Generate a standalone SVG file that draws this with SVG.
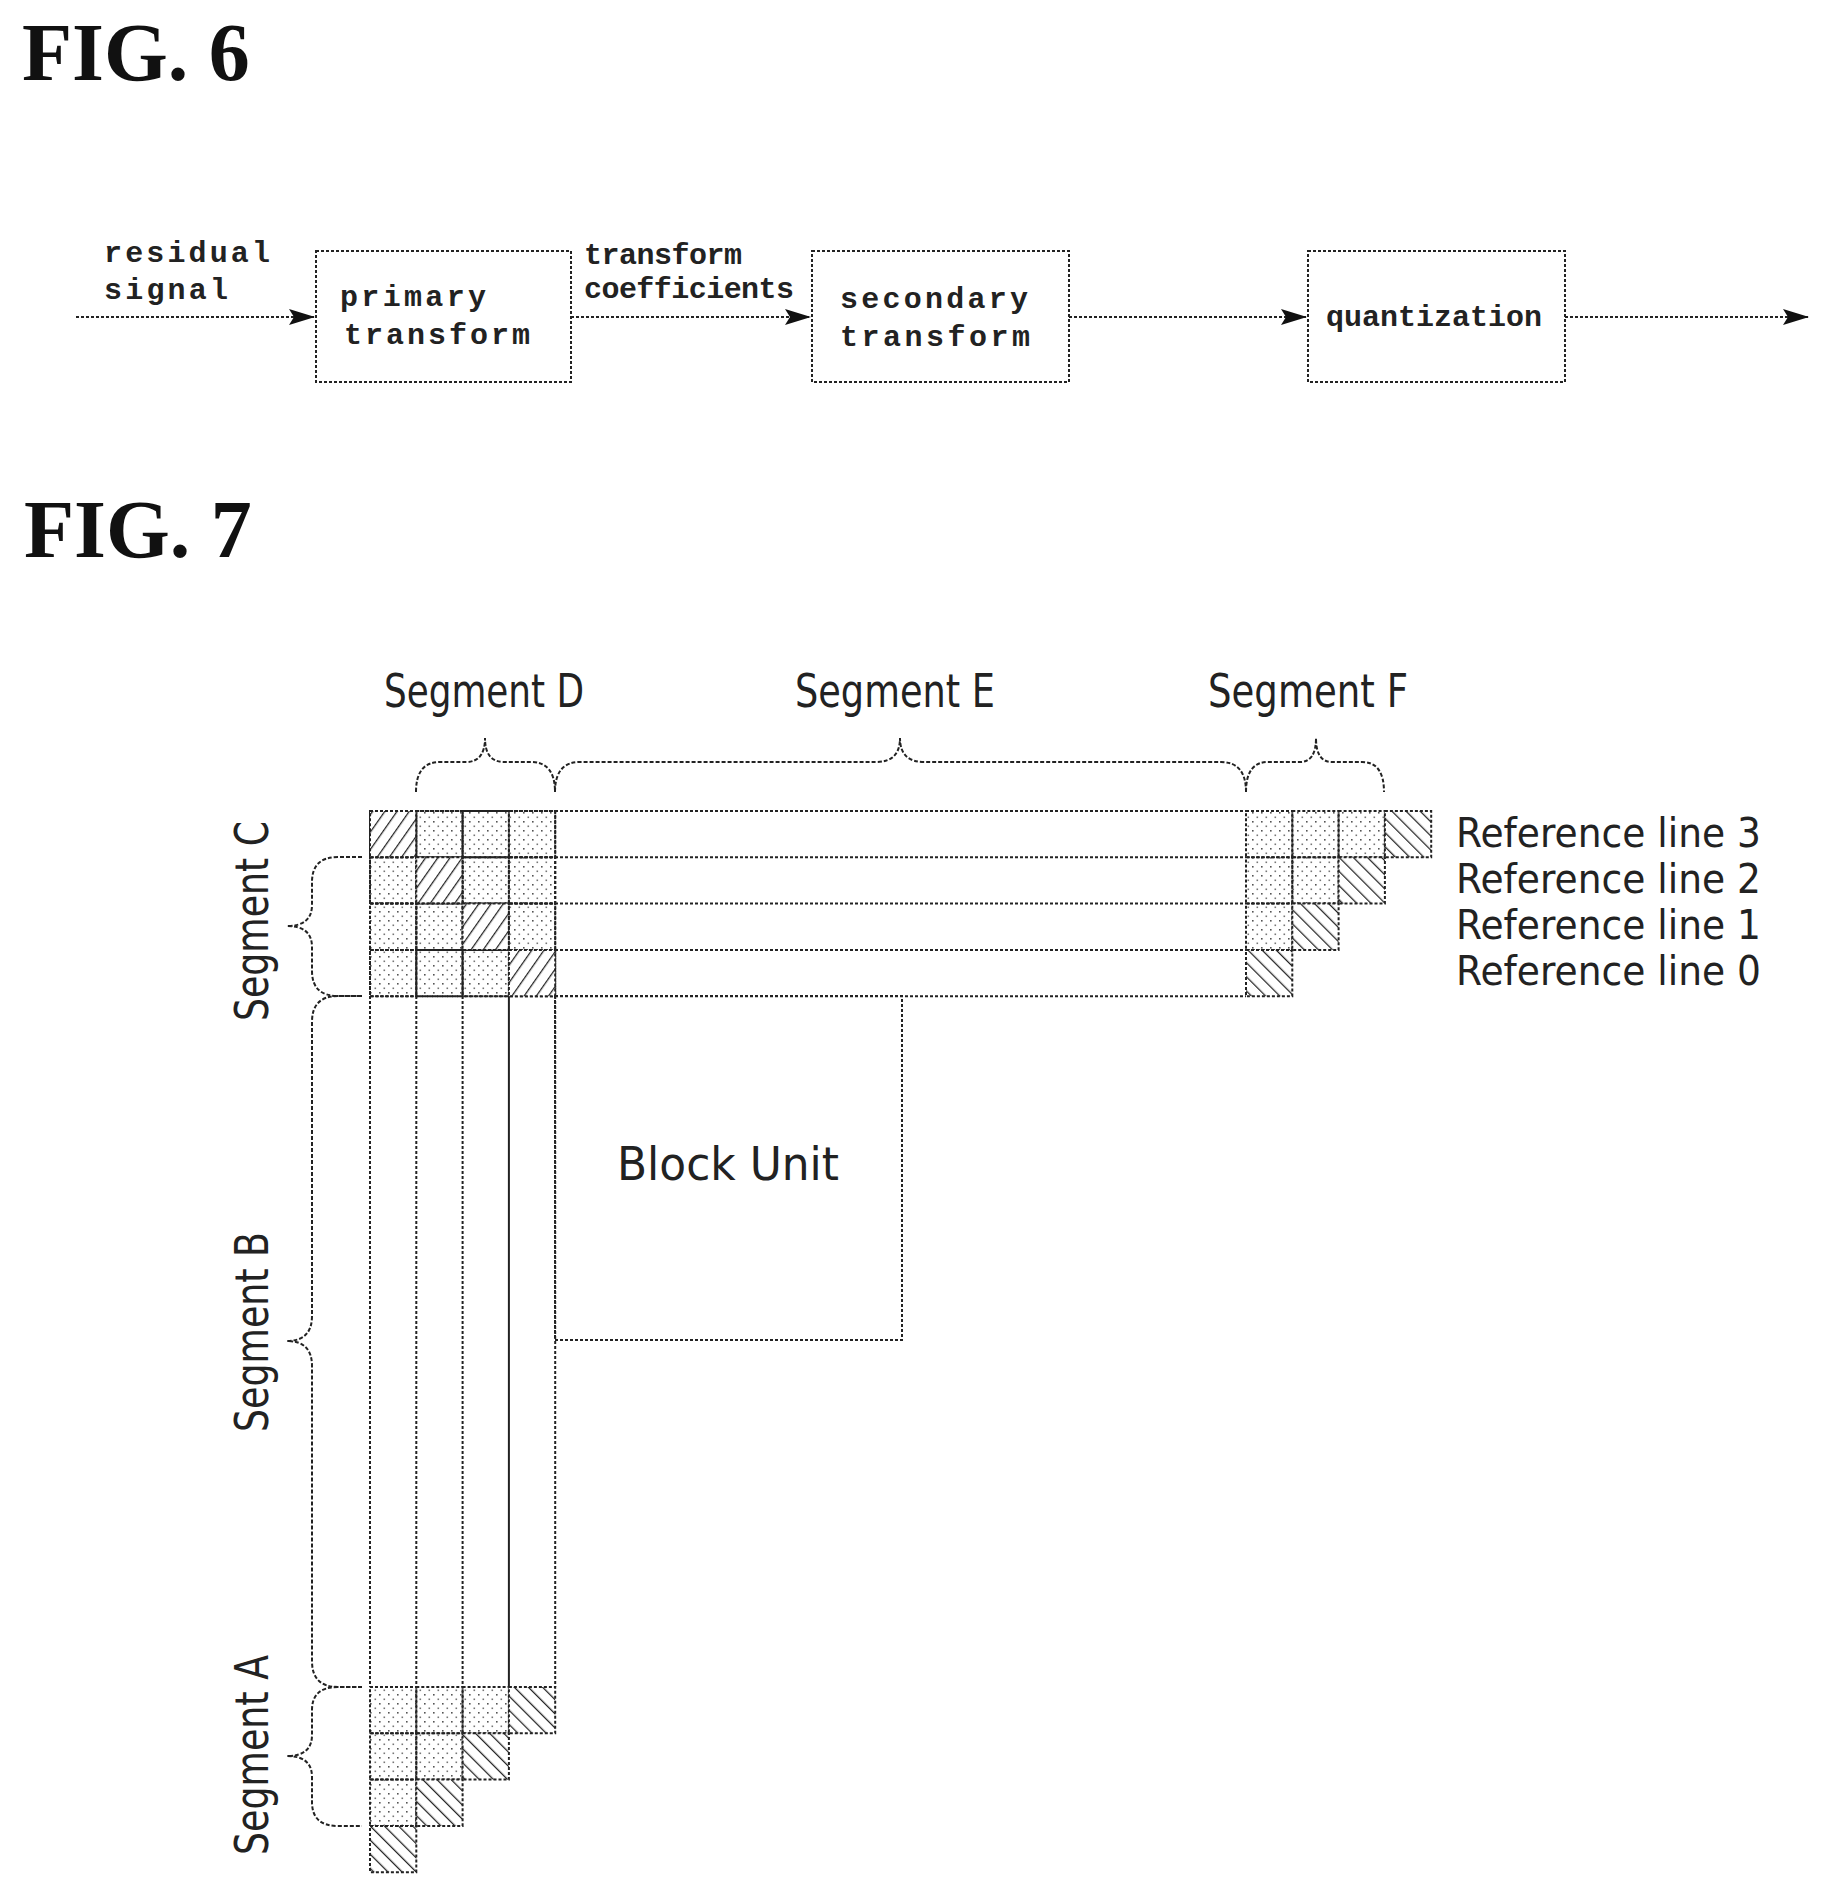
<svg xmlns="http://www.w3.org/2000/svg" width="1837" height="1893" viewBox="0 0 1837 1893">
<style>
.fig{font-family:"Liberation Serif",serif;font-weight:bold;font-size:82px;fill:#111}
.m{font-family:"Liberation Mono",monospace;font-weight:bold;font-size:30px;fill:#222}
.s{font-family:"DejaVu Sans",sans-serif;font-size:46px;fill:#222}
.r{font-family:"DejaVu Sans",sans-serif;font-size:41px;fill:#222}
.d{fill:none;stroke:#222;stroke-width:2;stroke-dasharray:3 2}
.sl{fill:none;stroke:#222;stroke-width:2}
.dot{fill:url(#dots);stroke:#222;stroke-width:2;stroke-dasharray:3 2}
.hf{fill:url(#hf);stroke:#222;stroke-width:2;stroke-dasharray:3 2}
.hb{fill:url(#hb);stroke:#222;stroke-width:2;stroke-dasharray:3 2}
.br{fill:none;stroke:#222;stroke-width:2;stroke-dasharray:4 2}
</style>
<defs>
<pattern id="dots" width="9" height="9" patternUnits="userSpaceOnUse">
<rect x="1" y="2" width="1.6" height="1.6" fill="#555"/><rect x="5.5" y="6.5" width="1.6" height="1.6" fill="#777"/>
</pattern>
<pattern id="hf" width="10" height="10" patternUnits="userSpaceOnUse" patternTransform="rotate(35)">
<rect width="10" height="10" fill="#fff"/><line x1="0" y1="0" x2="0" y2="10" stroke="#222" stroke-width="2.5"/>
</pattern>
<pattern id="hb" width="10" height="10" patternUnits="userSpaceOnUse" patternTransform="rotate(-45)">
<rect width="10" height="10" fill="#fff"/><line x1="0" y1="0" x2="0" y2="10" stroke="#222" stroke-width="2.5"/>
</pattern>
<marker id="ar" markerWidth="26" markerHeight="16" refX="25" refY="8" orient="auto" markerUnits="userSpaceOnUse">
<path d="M0,0 L26,8 L0,16 L5,8 Z" fill="#111"/>
</marker>
</defs>

<text class="fig" x="22" y="80">FIG. 6</text>
<text class="fig" x="24" y="557">FIG. 7</text>

<g id="connectors">
<line class="d" x1="76" y1="317" x2="314" y2="317" marker-end="url(#ar)"/>
<line class="d" x1="571" y1="317" x2="810" y2="317" marker-end="url(#ar)"/>
<line class="d" x1="1069" y1="317" x2="1306" y2="317" marker-end="url(#ar)"/>
<line class="d" x1="1565" y1="317" x2="1808" y2="317" marker-end="url(#ar)"/>
</g>
<g id="label-residual"><text class="m" x="104" y="262" textLength="166">residual</text><text class="m" x="104" y="299" textLength="124">signal</text></g>
<g id="label-coef"><text class="m" x="584" y="264" textLength="158">transform</text><text class="m" x="584" y="298" textLength="210">coefficients</text></g>
<g id="primary"><rect class="d" x="316" y="251" width="255" height="131"/><text class="m" x="340" y="306" textLength="146">primary</text><text class="m" x="344" y="344" textLength="186">transform</text></g>
<g id="secondary"><rect class="d" x="812" y="251" width="257" height="131"/><text class="m" x="840" y="308" textLength="188">secondary</text><text class="m" x="840" y="346" textLength="190">transform</text></g>
<g id="quantization"><rect class="d" x="1308" y="251" width="257" height="131"/><text class="m" x="1326" y="326" textLength="216">quantization</text></g>

<g id="grid-lines">
<line class="d" x1="370" y1="811" x2="1246" y2="811"/>
<line class="d" x1="370" y1="857.3" x2="1246" y2="857.3"/>
<line class="d" x1="370" y1="903.6" x2="1246" y2="903.6"/>
<line class="d" x1="370" y1="949.9" x2="1246" y2="949.9"/>
<line class="d" x1="370" y1="996.2" x2="1246" y2="996.2"/>
<line class="d" x1="370" y1="811" x2="370" y2="1687"/>
<line class="d" x1="416.3" y1="811" x2="416.3" y2="1687"/>
<line class="d" x1="462.6" y1="811" x2="462.6" y2="1687"/>
<line class="sl" x1="508.9" y1="996" x2="508.9" y2="1687"/>
<line class="d" x1="555.2" y1="811" x2="555.2" y2="1687"/>
</g>

<g id="topleft">
<rect class="hf" x="370" y="811" width="46.3" height="46.3"/><rect class="dot" x="416.3" y="811" width="46.3" height="46.3"/><rect class="dot" x="462.6" y="811" width="46.3" height="46.3"/><rect class="dot" x="508.9" y="811" width="46.3" height="46.3"/>
<rect class="dot" x="370" y="857.3" width="46.3" height="46.3"/><rect class="hf" x="416.3" y="857.3" width="46.3" height="46.3"/><rect class="dot" x="462.6" y="857.3" width="46.3" height="46.3"/><rect class="dot" x="508.9" y="857.3" width="46.3" height="46.3"/>
<rect class="dot" x="370" y="903.6" width="46.3" height="46.3"/><rect class="dot" x="416.3" y="903.6" width="46.3" height="46.3"/><rect class="hf" x="462.6" y="903.6" width="46.3" height="46.3"/><rect class="dot" x="508.9" y="903.6" width="46.3" height="46.3"/>
<rect class="dot" x="370" y="949.9" width="46.3" height="46.3"/><rect class="dot" x="416.3" y="949.9" width="46.3" height="46.3"/><rect class="dot" x="462.6" y="949.9" width="46.3" height="46.3"/><rect class="hf" x="508.9" y="949.9" width="46.3" height="46.3"/>
</g>

<g id="topright">
<rect class="dot" x="1246" y="811" width="46.3" height="46.3"/><rect class="dot" x="1292.3" y="811" width="46.3" height="46.3"/><rect class="dot" x="1338.6" y="811" width="46.3" height="46.3"/><rect class="hb" x="1384.9" y="811" width="46.3" height="46.3"/>
<rect class="dot" x="1246" y="857.3" width="46.3" height="46.3"/><rect class="dot" x="1292.3" y="857.3" width="46.3" height="46.3"/><rect class="hb" x="1338.6" y="857.3" width="46.3" height="46.3"/>
<rect class="dot" x="1246" y="903.6" width="46.3" height="46.3"/><rect class="hb" x="1292.3" y="903.6" width="46.3" height="46.3"/>
<rect class="hb" x="1246" y="949.9" width="46.3" height="46.3"/>
</g>

<g id="bottomleft">
<rect class="dot" x="370" y="1687" width="46.3" height="46.3"/><rect class="dot" x="416.3" y="1687" width="46.3" height="46.3"/><rect class="dot" x="462.6" y="1687" width="46.3" height="46.3"/><rect class="hb" x="508.9" y="1687" width="46.3" height="46.3"/>
<rect class="dot" x="370" y="1733.3" width="46.3" height="46.3"/><rect class="dot" x="416.3" y="1733.3" width="46.3" height="46.3"/><rect class="hb" x="462.6" y="1733.3" width="46.3" height="46.3"/>
<rect class="dot" x="370" y="1779.6" width="46.3" height="46.3"/><rect class="hb" x="416.3" y="1779.6" width="46.3" height="46.3"/>
<rect class="hb" x="370" y="1825.9" width="46.3" height="46.3"/>
</g>

<g id="block-unit">
<rect class="d" x="555" y="996" width="347" height="344"/>
<text class="s" x="728" y="1180" text-anchor="middle" textLength="222" lengthAdjust="spacingAndGlyphs">Block Unit</text>
</g>

<g id="ref-labels">
<text class="r" x="1456" y="847" textLength="305" lengthAdjust="spacingAndGlyphs">Reference line 3</text>
<text class="r" x="1456" y="893" textLength="305" lengthAdjust="spacingAndGlyphs">Reference line 2</text>
<text class="r" x="1456" y="939" textLength="305" lengthAdjust="spacingAndGlyphs">Reference line 1</text>
<text class="r" x="1456" y="985" textLength="305" lengthAdjust="spacingAndGlyphs">Reference line 0</text>
</g>

<g id="segment-D"><path class="br" d="M416,792 Q416,762 440,762 L466,762 Q485,762 485,738 Q485,762 504,762 L531,762 Q555,762 555,792"/><text class="s" x="484" y="707" text-anchor="middle" textLength="200" lengthAdjust="spacingAndGlyphs">Segment D</text></g>
<g id="segment-E"><path class="br" d="M555,792 Q555,762 580,762 L876,762 Q900,762 900,738 Q900,762 924,762 L1221,762 Q1246,762 1246,792"/><text class="s" x="895" y="707" text-anchor="middle" textLength="200" lengthAdjust="spacingAndGlyphs">Segment E</text></g>
<g id="segment-F"><path class="br" d="M1246,792 Q1246,762 1268,762 L1300,762 Q1316,762 1316,738 Q1316,762 1332,762 L1362,762 Q1384,762 1384,792"/><text class="s" x="1308" y="707" text-anchor="middle" textLength="200" lengthAdjust="spacingAndGlyphs">Segment F</text></g>

<g id="segment-C"><path class="br" d="M362,857 L338,857 Q312,857 312,882 L312,905 Q312,926 287,926 Q312,926 312,947 L312,971 Q312,996 338,996 L362,996"/><text class="s" transform="translate(268,921) rotate(-90)" text-anchor="middle" textLength="200" lengthAdjust="spacingAndGlyphs">Segment C</text></g>
<g id="segment-B"><path class="br" d="M362,996 L338,996 Q312,996 312,1022 L312,1316 Q312,1341 287,1341 Q312,1341 312,1366 L312,1661 Q312,1687 338,1687 L362,1687"/><text class="s" transform="translate(268,1332) rotate(-90)" text-anchor="middle" textLength="200" lengthAdjust="spacingAndGlyphs">Segment B</text></g>
<g id="segment-A"><path class="br" d="M362,1687 L338,1687 Q312,1687 312,1710 L312,1735 Q312,1756 287,1756 Q312,1756 312,1777 L312,1802 Q312,1826 338,1826 L362,1826"/><text class="s" transform="translate(268,1755) rotate(-90)" text-anchor="middle" textLength="200" lengthAdjust="spacingAndGlyphs">Segment A</text></g>
</svg>
